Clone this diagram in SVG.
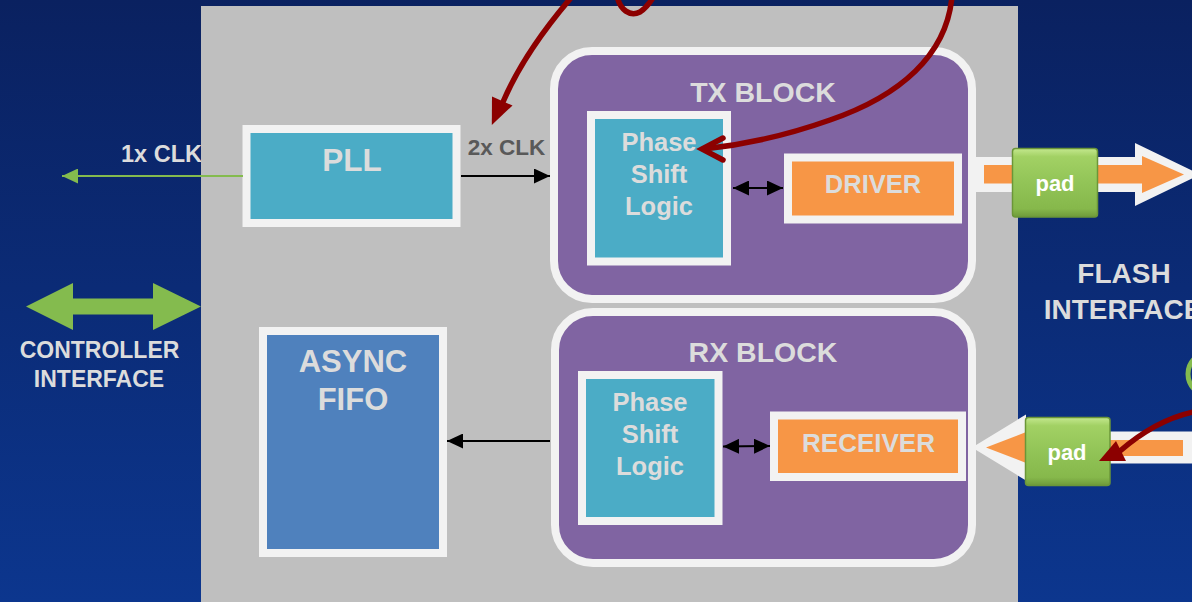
<svg xmlns="http://www.w3.org/2000/svg" width="1192" height="602" viewBox="0 0 1192 602">
  <defs>
    <linearGradient id="bgGrad" x1="0" y1="0" x2="0" y2="1">
      <stop offset="0" stop-color="#0A2160"/>
      <stop offset="1" stop-color="#0C368E"/>
    </linearGradient>
    <linearGradient id="padGrad" x1="0" y1="0" x2="0" y2="1">
      <stop offset="0" stop-color="#C4E88E"/>
      <stop offset="0.12" stop-color="#A2D164"/>
      <stop offset="0.5" stop-color="#92C457"/>
      <stop offset="0.88" stop-color="#86B84B"/>
      <stop offset="1" stop-color="#6E9A3A"/>
    </linearGradient>
    <marker id="arrowBlack" viewBox="0 0 16 15" refX="16" refY="7.5" markerWidth="16" markerHeight="15" markerUnits="userSpaceOnUse" orient="auto-start-reverse">
      <path d="M0,0 L16,7.5 L0,15 Z" fill="#000"/>
    </marker>
    <marker id="arrowGreen" viewBox="0 0 16 15" refX="16" refY="7.5" markerWidth="16" markerHeight="15" markerUnits="userSpaceOnUse" orient="auto">
      <path d="M0,0 L16,7.5 L0,15 Z" fill="#84BB4E"/>
    </marker>
    <style>
      .lbl { font-family: "Liberation Sans", Arial, sans-serif; font-weight: bold; fill: #DCDCDC; text-anchor: middle; }
      .box { stroke: #F2F2F2; stroke-width: 8; }
      .teal { fill: #4BACC6; }
      .purple { fill: #8064A2; }
      .orange { fill: #F79646; }
      .fifo { fill: #4F81BD; }
      .wire { stroke: #000; stroke-width: 2; fill: none; }
      .red { stroke: #8C0000; stroke-width: 5.5; fill: none; stroke-linecap: round; }
      .pad { fill: url(#padGrad); stroke: #6B9638; stroke-width: 1.5; }
      .padtxt { font-family: "Liberation Sans", Arial, sans-serif; font-weight: bold; fill: #FFFFFF; font-size: 22px; text-anchor: middle; }
    </style>
  </defs>

  <!-- background -->
  <rect x="0" y="0" width="1192" height="602" fill="url(#bgGrad)"/>

  <!-- clock label on the left, partly tucked under the chip panel -->
  <text class="lbl" x="121" y="162" font-size="23.5" style="text-anchor:start">1x CLK</text>

  <!-- chip panel -->
  <rect id="chip-panel" x="201" y="6" width="817" height="600" fill="#BFBFBF"/>

  <!-- controller interface -->
  <g id="controller-interface">
    <path d="M26,306.5 L73,283 L73,298.5 L153,298.5 L153,283 L201,306.5 L153,330 L153,314.5 L73,314.5 L73,330 Z" fill="#84BB4E"/>
    <text class="lbl" font-size="23" x="99.5" y="358">CONTROLLER</text>
    <text class="lbl" font-size="23" x="99" y="387">INTERFACE</text>
  </g>

  <!-- flash interface (label runs off the right edge) -->
  <g id="flash-interface">
    <text class="lbl" font-size="28" x="1124" y="283">FLASH</text>
    <text class="lbl" font-size="28" x="1123" y="318.5">INTERFACE</text>
    <ellipse cx="1216" cy="374" rx="28" ry="24" fill="none" stroke="#84BB4E" stroke-width="5"/>
  </g>

  <!-- PLL -->
  <g id="pll">
    <rect class="box teal" x="246.5" y="129" width="210" height="94"/>
    <text class="lbl" font-size="31.5" x="352" y="170.5">PLL</text>
  </g>

  <!-- ASYNC FIFO -->
  <g id="async-fifo">
    <rect class="box fifo" x="263" y="331" width="180" height="222"/>
    <text class="lbl" font-size="31" x="353" y="372">ASYNC</text>
    <text class="lbl" font-size="31" x="353" y="410">FIFO</text>
  </g>

  <!-- TX block -->
  <g id="tx-block">
    <rect class="box purple" x="554" y="51" width="418" height="248" rx="38" ry="38"/>
    <text class="lbl" font-size="28.5" x="763" y="102">TX BLOCK</text>
  </g>
  <g id="tx-phase-shift">
    <rect class="box teal" x="591" y="115" width="136" height="146.5"/>
    <text class="lbl" font-size="25.5" x="659" y="151">Phase</text>
    <text class="lbl" font-size="25.5" x="659" y="183">Shift</text>
    <text class="lbl" font-size="25.5" x="659" y="215">Logic</text>
  </g>
  <g id="driver">
    <rect class="box orange" x="788" y="157.5" width="170" height="62"/>
    <text class="lbl" font-size="25.5" x="873" y="193">DRIVER</text>
  </g>

  <!-- RX block -->
  <g id="rx-block">
    <rect class="box purple" x="555" y="312" width="417" height="251" rx="38" ry="38"/>
    <text class="lbl" font-size="28.5" x="763" y="362">RX BLOCK</text>
  </g>
  <g id="rx-phase-shift">
    <rect class="box teal" x="582" y="375" width="136.5" height="146"/>
    <text class="lbl" font-size="25.5" x="650" y="411">Phase</text>
    <text class="lbl" font-size="25.5" x="650" y="443">Shift</text>
    <text class="lbl" font-size="25.5" x="650" y="475">Logic</text>
  </g>
  <g id="receiver">
    <rect class="box orange" x="774" y="415.5" width="188" height="61.5"/>
    <text class="lbl" font-size="26" x="868.5" y="452">RECEIVER</text>
  </g>

  <!-- connectors -->
  <g id="connectors">
    <!-- clocks -->
    <line x1="243" y1="176" x2="62" y2="176" stroke="#84BB4E" stroke-width="2" marker-end="url(#arrowGreen)"/>
    <line class="wire" x1="461" y1="176" x2="550" y2="176" marker-end="url(#arrowBlack)"/>
    <text class="lbl" font-size="22.5" x="506.5" y="155" style="fill:#595959">2x CLK</text>
    <!-- phase shift to driver / receiver -->
    <line class="wire" x1="733" y1="188" x2="783" y2="188" marker-start="url(#arrowBlack)" marker-end="url(#arrowBlack)"/>
    <line class="wire" x1="723" y1="446.5" x2="770" y2="446" marker-start="url(#arrowBlack)" marker-end="url(#arrowBlack)"/>
    <!-- RX block into FIFO -->
    <line class="wire" x1="550" y1="441" x2="447" y2="441" marker-end="url(#arrowBlack)"/>

    <!-- output arrow from the driver -->
    <path d="M976,157 L1135,157 L1135,143 L1200,174.5 L1135,206 L1135,192 L976,192 Z" fill="#F2F2F2"/>
    <path d="M984,165 L1142,165 L1142,156 L1184,174.5 L1142,193 L1142,183.5 L984,183.5 Z" fill="#F79646"/>
    <!-- input arrow into the receiver -->
    <path d="M972,447.5 L1026,414.5 L1026,431.5 L1192,431.5 L1192,463.5 L1026,463.5 L1026,480.5 Z" fill="#F2F2F2"/>
    <path d="M986,447.5 L1030,430.5 L1030,440 L1183,440 L1183,456 L1030,456 L1030,464.5 Z" fill="#F79646"/>
  </g>

  <!-- pads -->
  <g id="pad-tx">
    <rect class="pad" x="1012.5" y="148.5" width="85" height="68.5" rx="3"/>
    <text class="padtxt" x="1055" y="191">pad</text>
  </g>
  <g id="pad-rx">
    <rect class="pad" x="1025.5" y="417.5" width="84.5" height="68" rx="3"/>
    <text class="padtxt" x="1067" y="460">pad</text>
  </g>

  <!-- red annotation strokes -->
  <g id="annotations">
    <path class="red" d="M576,-8 C548,24 520,62 503,102"/>
    <path d="M491.8,125 L512.5,105.5 L492,96.5 Z" fill="#8C0000"/>
    <path class="red" d="M617,-4 C620,10 630,17 640,12 C646,8 650,3 654,-4"/>
    <path class="red" d="M952,-4 C947,55 900,96 830,120 C782,137 742,145 704,149"/>
    <path class="red" d="M723,138 L702,149 L723,160" stroke-linejoin="miter"/>
    <path class="red" d="M1198,411 C1170,416 1142,432 1120,451"/>
    <path d="M1099,461 L1116,441 L1126,461 Z" fill="#8C0000"/>
  </g>
</svg>
